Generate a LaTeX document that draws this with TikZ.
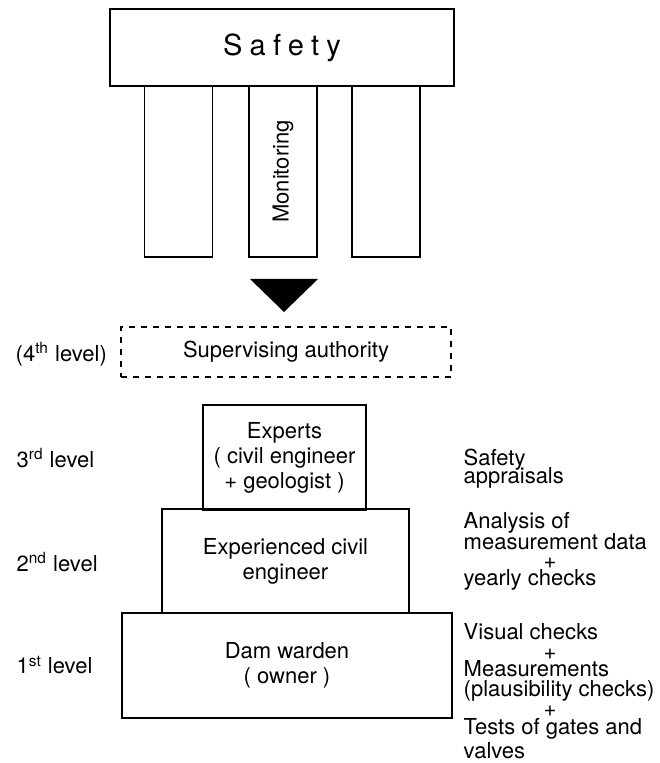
\documentclass[tikz,border=0pt]{standalone}
\usepackage{fontspec}
\setmainfont{TeX Gyre Heros}
\newfontfamily\spacedfont[LetterSpace=25]{TeX Gyre Heros}
\begin{document}
\begin{tikzpicture}[x=0.5pt,y=-0.5pt,line width=0.7pt,
    font=\fontsize{11}{12.5}\selectfont,
    box/.style={draw,inner sep=0pt,align=center},
    pillar/.style={box,minimum width=34pt,minimum height=85.5pt},
    lvl/.style={anchor=west,inner sep=0pt},
    note/.style={anchor=base west,inner sep=0pt,align=left,font=\fontsize{11}{10.5}\selectfont}]
    \useasboundingbox (0,0) rectangle (659,763);
    \node[box,minimum width=172pt,minimum height=38.5pt,font=\fontsize{14.5}{16}\spacedfont] (safety) at (282,47.5) {Safety};
    \node[pillar] (pilA) at (178.5,171.5) {};
    \node[pillar] (pilB) at (283,171.5) {\rotatebox{90}{Monitoring}};
    \node[pillar] (pilC) at (386,171.5) {};
    \fill (250,279) -- (318,279) -- (284,312) -- cycle;
    \node[box,dashed,minimum width=165pt,minimum height=25pt] (authority) at (286,352) {Supervising authority};
    \node[box,minimum width=81.5pt,minimum height=52.5pt] (experts) at (284.5,457.5) {Experts\\( civil engineer\\+ geologist )};
    \node[box,minimum width=123.5pt,minimum height=52pt] (engineer) at (285.5,561) {Experienced civil\\engineer};
    \node[box,minimum width=165pt,minimum height=52.5pt] (warden) at (287,665.5) {Dam warden\\( owner )};
    % levels
    \node[lvl] (lvlD) at (15,354) {(4\textsuperscript{th} level)};
    \node[lvl] (lvlC) at (16,458) {3\textsuperscript{rd} level};
    \node[lvl] (lvlB) at (16,562) {2\textsuperscript{nd} level};
    \node[lvl] (lvlA) at (16,665) {1\textsuperscript{st} level};
    % tasks (base = last line)
    \node[note] (taskC) at (463,483) {Safety\\[-1.5pt]appraisals};
    \node[note] (taskB) at (463,585) {Analysis of\\measurement data\\[-1pt]\hspace*{40pt}+\\[-2pt]yearly checks};
    \node[note] (taskA) at (463,758) {Visual checks\\[-0.5pt]\hspace*{40pt}+\\[-2pt]Measurements\\[-0.5pt](plausibility checks)\\[-0.5pt]\hspace*{40pt}+\\[-1.5pt]Tests of gates and\\[1.5pt]valves};
\end{tikzpicture}
\end{document}
